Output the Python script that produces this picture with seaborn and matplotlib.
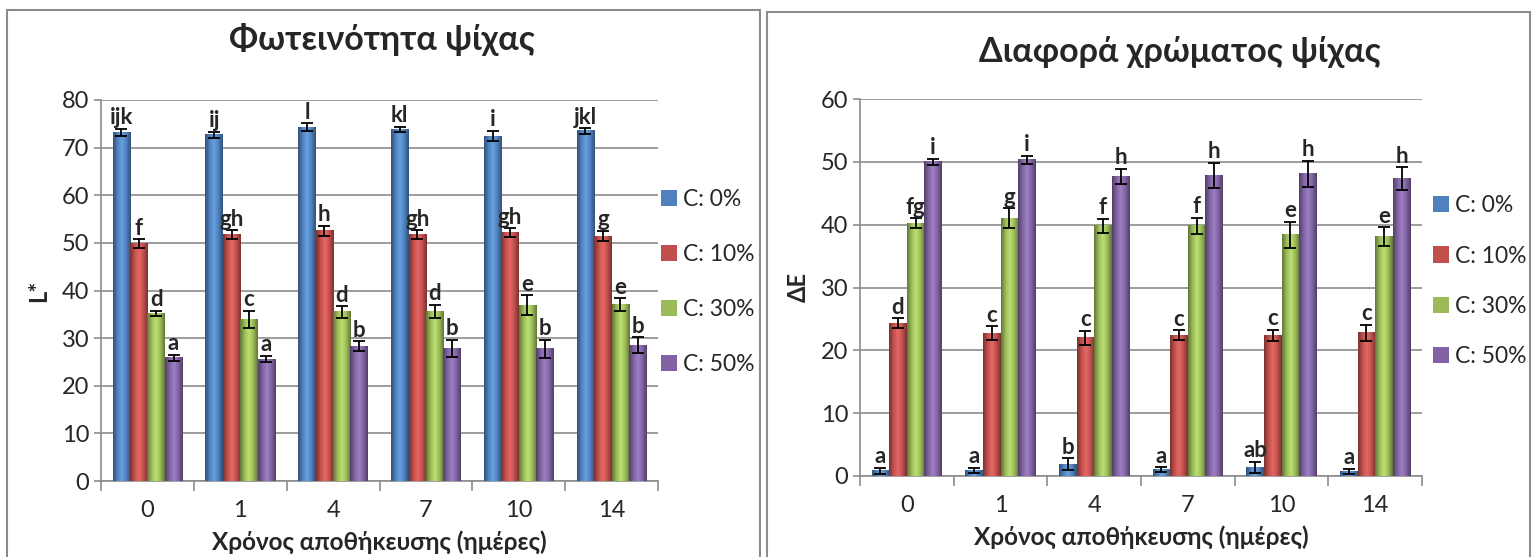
import numpy as np
import pandas as pd
import matplotlib.pyplot as plt
import seaborn as sns
from matplotlib.patches import Rectangle
from matplotlib.ticker import FixedLocator
from matplotlib.colors import LinearSegmentedColormap, to_rgb

# Δεδομένα (εκτίμηση από το γράφημα)
days = ['0', '1', '4', '7', '10', '14']
groups = ['C: 0%', 'C: 10%', 'C: 30%', 'C: 50%']
colors = ['#4F81BD', '#C0504D', '#9BBB59', '#8064A2']

# Φωτεινότητα L*
L_c0 = [73.2, 72.7, 74.3, 73.8, 72.4, 73.5]
L_c10 = [49.9, 51.7, 52.5, 51.8, 52.2, 51.4]
L_c30 = [35.2, 34.0, 35.5, 35.6, 36.9, 37.1]
L_c50 = [25.9, 25.6, 28.3, 27.9, 27.8, 28.5]
L_err_c0 = [0.8, 0.6, 0.8, 0.6, 1.1, 0.6]
L_err_c10 = [0.9, 0.9, 1.1, 0.9, 0.9, 1.1]
L_err_c30 = [0.6, 1.8, 1.2, 1.4, 2.1, 1.3]
L_err_c50 = [0.6, 0.7, 1.0, 1.8, 1.9, 1.7]
L_let_c0 = ['ijk', 'ij', 'l', 'kl', 'i', 'jkl']
L_let_c10 = ['f', 'gh', 'h', 'gh', 'gh', 'g']
L_let_c30 = ['d', 'c', 'd', 'd', 'e', 'e']
L_let_c50 = ['a', 'a', 'b', 'b', 'b', 'b']

# Διαφορά χρώματος ΔE
E_c0 = [0.8, 0.9, 1.9, 1.0, 1.4, 0.7]
E_c10 = [24.3, 22.7, 22.0, 22.4, 22.4, 22.8]
E_c30 = [40.2, 41.0, 39.8, 39.8, 38.4, 38.1]
E_c50 = [50.0, 50.3, 47.7, 47.8, 48.1, 47.3]
E_err_c0 = [0.5, 0.4, 0.9, 0.4, 0.9, 0.4]
E_err_c10 = [0.8, 1.1, 1.1, 0.8, 0.9, 1.3]
E_err_c30 = [0.8, 1.6, 1.1, 1.3, 2.1, 1.5]
E_err_c50 = [0.5, 0.7, 1.2, 2.0, 2.1, 1.8]
E_let_c0 = ['a', 'a', 'b', 'a', 'ab', 'a']
E_let_c10 = ['d', 'c', 'c', 'c', 'c', 'c']
E_let_c30 = ['fg', 'g', 'f', 'f', 'e', 'e']
E_let_c50 = ['i', 'i', 'h', 'h', 'h', 'h']


def long_df(series):
    rows = []
    for g, vals in zip(groups, series):
        for d, v in zip(days, vals):
            rows.append({'day': d, 'group': g, 'value': v})
    return pd.DataFrame(rows)


def cylinder_cmap(c):
    r, g, b = to_rgb(c)
    dark = (r * 0.62, g * 0.62, b * 0.62)
    light = tuple(min(1, v * 1.12 + 0.06) for v in (r, g, b))
    return LinearSegmentedColormap.from_list('cyl', [dark, (r, g, b), light, (r, g, b), dark])


sns.set_style('white')
plt.rcParams['font.family'] = ['Lato', 'Noto Sans', 'DejaVu Sans']

fig = plt.figure(figsize=(15.36, 5.57), dpi=100)

# πλαίσια των δύο γραφημάτων
fig.patches.append(Rectangle((7 / 1536, -0.01), 753 / 1536, 1 - 10 / 557 + 0.01,
                             transform=fig.transFigure, fill=False,
                             edgecolor='#8c8c8c', lw=1.5))
fig.patches.append(Rectangle((767 / 1536, -0.01), 763 / 1536, 1 - 12 / 557 + 0.01,
                             transform=fig.transFigure, fill=False,
                             edgecolor='#8c8c8c', lw=1.5))

grad = np.linspace(0, 1, 64).reshape(1, -1)


def draw_panel(rect, series, errs, letters, ymax, ylabel, title, title_xy, leg_xy, leg_sp):
    ax = fig.add_axes(rect)
    df = long_df(series)
    sns.barplot(data=df, x='day', y='value', hue='group', palette=colors,
                errorbar=None, width=0.75, saturation=1, ax=ax,
                linewidth=0, zorder=3)

    # κυλινδρική σκίαση πάνω στις μπάρες του seaborn
    for cont, col in zip(ax.containers, colors):
        cm = cylinder_cmap(col)
        for p in cont.patches:
            x0, w, h = p.get_x(), p.get_width(), p.get_height()
            ax.imshow(grad, cmap=cm, extent=[x0, x0 + w, 0, h], aspect='auto',
                      interpolation='bicubic', zorder=3)
            p.set_facecolor('none')

    for cont, err, lets in zip(ax.containers, errs, letters):
        xs = [p.get_x() + p.get_width() / 2 for p in cont.patches]
        hs = [p.get_height() for p in cont.patches]
        ax.errorbar(xs, hs, yerr=err, fmt='none', ecolor='black',
                    capsize=4, elinewidth=1.3, capthick=1.3, zorder=4)
        for x, h, e, t in zip(xs, hs, err, lets):
            ax.text(x, h + e + 0.1, t, ha='center', va='bottom',
                    fontsize=16, fontweight='bold', zorder=5)

    ax.set_ylim(0, ymax)
    ax.set_xlim(-0.5, 5.5)
    ax.set_yticks(range(0, ymax + 1, 10))
    ax.yaxis.grid(True, color='#8c8c8c', lw=1.2, zorder=0)
    ax.set_axisbelow(True)
    for s in ['top', 'right']:
        ax.spines[s].set_visible(False)
    for s in ['left', 'bottom']:
        ax.spines[s].set_color('#8c8c8c')
        ax.spines[s].set_linewidth(1.2)

    ax.tick_params(axis='y', labelsize=17, length=5, color='#8c8c8c', left=True, width=1.2)
    ax.tick_params(axis='x', which='major', labelsize=17, length=0, pad=14)
    ax.xaxis.set_minor_locator(FixedLocator([i - 0.5 for i in range(7)]))
    ax.tick_params(axis='x', which='minor', length=7, color='#8c8c8c', width=1.2, bottom=True)

    ax.set_xlabel('Χρόνος αποθήκευσης (ημέρες)', fontsize=17.5, fontweight='bold', labelpad=6)
    ax.set_ylabel(ylabel, fontsize=17, fontweight='bold', labelpad=8)

    fig.text(title_xy[0], title_xy[1], title, ha='center', va='center',
             fontsize=24.5, fontweight='bold')

    handles, labels = ax.get_legend_handles_labels()
    ax.legend(handles, labels, loc='center left', bbox_to_anchor=leg_xy,
              frameon=False, fontsize=16.5, handlelength=0.7, handleheight=0.7,
              handletextpad=0.25, labelspacing=leg_sp, borderaxespad=0, borderpad=0.2)
    return ax


draw_panel([101 / 1536, 1 - 481 / 557, 557 / 1536, 381 / 557],
           [L_c0, L_c10, L_c30, L_c50],
           [L_err_c0, L_err_c10, L_err_c30, L_err_c50],
           [L_let_c0, L_let_c10, L_let_c30, L_let_c50],
           80, 'L*', 'Φωτεινότητα ψίχας', (382 / 1536, 1 - 40 / 557), (0.997, 0.522), 1.49)

draw_panel([860 / 1536, 1 - 476 / 557, 562 / 1536, 377 / 557],
           [E_c0, E_c10, E_c30, E_c50],
           [E_err_c0, E_err_c10, E_err_c30, E_err_c50],
           [E_let_c0, E_let_c10, E_let_c30, E_let_c50],
           60, 'ΔΕ', 'Διαφορά χρώματος ψίχας', (1180 / 1536, 1 - 52 / 557), (1.012, 0.517), 1.27)

fig.savefig('out.png', dpi=100)
